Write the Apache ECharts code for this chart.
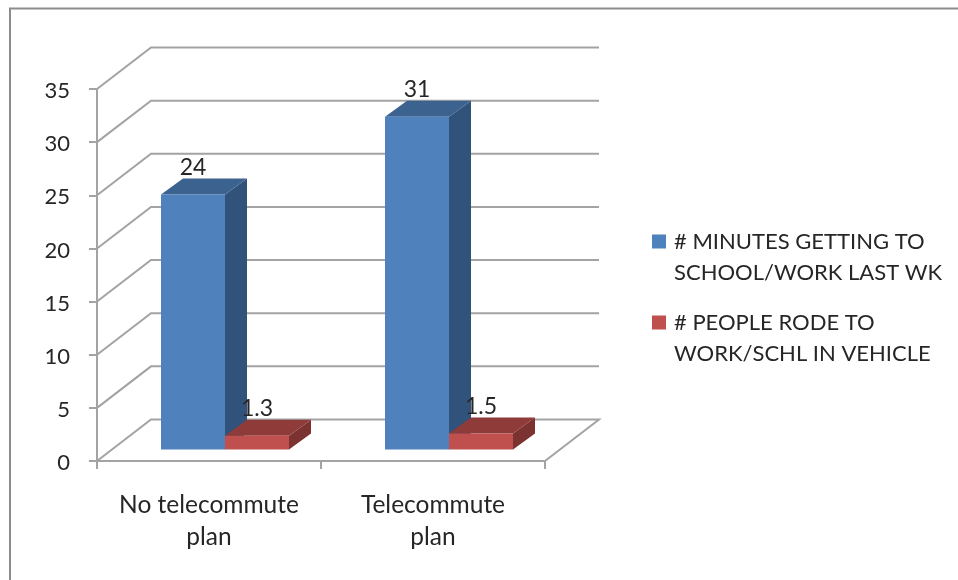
<!DOCTYPE html>
<html>
<head>
<meta charset="utf-8">
<style>html,body{margin:0;padding:0;background:#fff}#c{width:958px;height:580px}</style>
<script src="https://cdn.jsdelivr.net/npm/echarts@6/dist/echarts.min.js"></script>
</head>
<body>
<div id="c"></div>
<script>
const categories = ['No telecommute\nplan', 'Telecommute\nplan'];
const minutesName = '# MINUTES GETTING TO\nSCHOOL/WORK LAST WK';
const peopleName = '# PEOPLE RODE TO\nWORK/SCHL IN VEHICLE';
const minutesValues = [24, 31.3];
const peopleValues = [1.3, 1.5];
const minutesLabels = ['24', '31'];
const peopleLabels = ['1.3', '1.5'];
const yTicks = [0, 5, 10, 15, 20, 25, 30, 35];

const WALL = [54, -41.5];
const FLOOR = [16, -11.5];
const DEPTH = [22, -16];
const BAR_FRAC = 64 / 224;
const GAP_FRAC = 48 / 224;
const GRID_COLOR = '#a3a3a3';
const TEXT_COLOR = '#262626';
const FONT = 'Lato';

function poly(points, fill) {
  return { type: 'polygon', shape: { points }, style: { fill } };
}

function wallItem(params, api) {
  const v = api.value(0);
  const band = api.size([1, 0])[0];
  const a = api.coord([0, v]);
  const x0 = a[0] - band / 2;
  const x1 = api.coord([categories.length - 1, v])[0] + band / 2;
  const y = a[1];
  const pts = [[x0, y], [x0 + WALL[0], y + WALL[1]], [x1 + WALL[0], y + WALL[1]]];
  if (v === 0) pts.push([x1, y]);
  return {
    type: 'polyline',
    shape: { points: pts },
    style: { stroke: GRID_COLOR, lineWidth: 2, fill: null }
  };
}

function barRenderer(slot, labels, faces) {
  return function (params, api) {
    const cat = api.value(0);
    const band = api.size([1, 0])[0];
    const top = api.coord([cat, api.value(1)]);
    const base = api.coord([cat, 0]);
    const w = band * BAR_FRAC;
    const l = top[0] - band / 2 + band * GAP_FRAC + slot * w + FLOOR[0];
    const r = l + w;
    const t = top[1] + FLOOR[1];
    const b = base[1] + FLOOR[1];
    const dx = DEPTH[0], dy = DEPTH[1];
    return {
      type: 'group',
      children: [
        poly([[r, t], [r + dx, t + dy], [r + dx, b + dy], [r, b]], faces.side),
        poly([[l, t], [l + dx, t + dy], [r + dx, t + dy], [r, t]], faces.top),
        poly([[l, t], [r, t], [r, b], [l, b]], faces.front),
        {
          type: 'text',
          z2: 20,
          style: {
            x: (l + r) / 2, y: t + dy - 11,
            text: labels[params.dataIndex],
            align: 'center', verticalAlign: 'middle',
            font: '23px ' + FONT, fill: TEXT_COLOR
          }
        }
      ]
    };
  };
}

const legendIcon = 'path://M0 8.5L14 8.5L14 22.5L0 22.5Z M0 0L0 0 M17 62L17 62';
const chart = echarts.init(document.getElementById('c'), null, { renderer: 'canvas' });
chart.setOption({
  animation: false,
  backgroundColor: '#ffffff',
  textStyle: { fontFamily: FONT },
  grid: { left: 97, right: 413, top: 89, bottom: 119 },
  xAxis: {
    type: 'category',
    data: categories,
    axisLine: { lineStyle: { color: GRID_COLOR, width: 2 } },
    axisTick: { show: true, length: 8, alignWithLabel: false, lineStyle: { color: GRID_COLOR, width: 2 } },
    axisLabel: { color: TEXT_COLOR, fontFamily: FONT, fontSize: 24.5, lineHeight: 32, margin: 28, interval: 0 }
  },
  yAxis: {
    type: 'value',
    min: 0, max: 35, interval: 5,
    axisLine: { show: true, lineStyle: { color: GRID_COLOR, width: 2 } },
    axisTick: { show: true, length: 8, lineStyle: { color: GRID_COLOR, width: 2 } },
    axisLabel: {
      margin: 27,
      formatter: v => '{n|' + v + '}',
      rich: { n: { color: TEXT_COLOR, fontFamily: FONT, fontSize: 22, lineHeight: 24, padding: [4, 0, 0, 0] } }
    },
    splitLine: { show: false }
  },
  legend: {
    orient: 'vertical',
    left: 652, top: 226, padding: 0,
    itemGap: 19, itemWidth: 17, itemHeight: 62,
    selectedMode: false,
    textStyle: { color: TEXT_COLOR, fontFamily: FONT, fontSize: 22, lineHeight: 31 },
    data: [
      { name: minutesName, icon: legendIcon },
      { name: peopleName, icon: legendIcon }
    ]
  },
  graphic: [{
    type: 'polyline',
    silent: true,
    shape: { points: [[10, 580], [10, 8.5], [958, 8.5]] },
    style: { stroke: '#8c8c8c', lineWidth: 2, fill: null }
  }],
  series: [
    {
      type: 'custom', name: 'wall', z: 1, silent: true, clip: false,
      coordinateSystem: 'cartesian2d',
      encode: { y: 0 },
      data: yTicks.map(v => [v]),
      renderItem: wallItem
    },
    {
      type: 'custom', name: minutesName, z: 3, silent: true, clip: false,
      coordinateSystem: 'cartesian2d',
      itemStyle: { color: '#4f81bd' },
      encode: { x: 0, y: 1 },
      data: minutesValues.map((v, i) => [i, v]),
      renderItem: barRenderer(0, minutesLabels, { front: '#4f81bd', top: '#3c6390', side: '#31537b' })
    },
    {
      type: 'custom', name: peopleName, z: 4, silent: true, clip: false,
      coordinateSystem: 'cartesian2d',
      itemStyle: { color: '#c0504d' },
      encode: { x: 0, y: 1 },
      data: peopleValues.map((v, i) => [i, v]),
      renderItem: barRenderer(1, peopleLabels, { front: '#c0504d', top: '#8f3b39', side: '#7c3230' })
    }
  ]
});
</script>
</body>
</html>
